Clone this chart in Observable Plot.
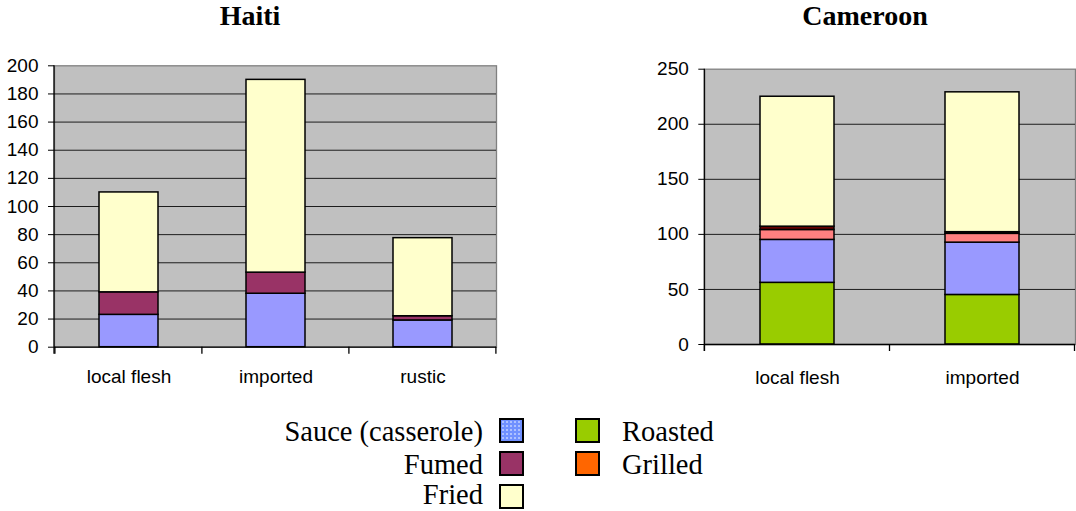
<!DOCTYPE html>
<html>
<head>
<meta charset="utf-8">
<script src="https://cdn.jsdelivr.net/npm/d3@7"></script>
<script src="https://cdn.jsdelivr.net/npm/@observablehq/plot@0.6"></script>
<style>
  html, body { margin: 0; padding: 0; background: #fff; }
  #wrap { position: relative; width: 1076px; height: 511px; overflow: hidden; }
  .title { position: absolute; top: 0; font-family: "Liberation Serif", "Times New Roman", serif; font-weight: bold; font-size: 28px; line-height: 32px; text-align: center; color: #000; }
  .chart { position: absolute; top: 40px; }
  .lg-text { position: absolute; font-family: "Liberation Serif", "Times New Roman", serif; font-size: 28.5px; line-height: 20px; color: #000; white-space: nowrap; }
  .lg-sw { position: absolute; width: 21px; height: 21px; border: 2px solid #000; }
</style>
</head>
<body>
<div id="wrap">
  <div class="title" style="left:0; width:500px;">Haiti</div>
  <div class="title" style="left:640px; width:450px;">Cameroon</div>
  <div id="haiti" class="chart" style="left:0;"></div>
  <div id="cameroon" class="chart" style="left:640px;"></div>
  <div id="legend"></div>
</div>
<script>
// ---------- data ----------
const haitiCategories = ["local flesh", "imported", "rustic"];
const haitiSauce = [23, 38, 19];
const haitiFumed = [16, 15, 3];
const haitiFried = [71, 137, 55.5];
const haitiTicks = [0, 20, 40, 60, 80, 100, 120, 140, 160, 180, 200];

const cameroonCategories = ["local flesh", "imported"];
const cameroonRoasted = [56, 45];
const cameroonSauce = [39, 47.5];
const cameroonGrilled = [9, 8];
const cameroonFumed = [3, 1.5];
const cameroonFried = [118, 127];
const cameroonTicks = [0, 50, 100, 150, 200, 250];

const legendLeft = ["Sauce (casserole)", "Fumed", "Fried"];
const legendRight = ["Roasted", "Grilled"];

// ---------- styles ----------
const haitiColors = {"Sauce (casserole)": "#9999ff", "Fumed": "#993366", "Fried": "#ffffcc"};
const cameroonColors = {"Roasted": "#99cc00", "Sauce (casserole)": "#9999ff", "Grilled": "#ff8080", "Fumed": "#660000", "Fried": "#ffffcc"};
const legendColors = {"Sauce (casserole)": "#7090ff", "Fumed": "#993366", "Fried": "#ffffcc", "Roasted": "#99cc00", "Grilled": "#ff6600"};

function longTable(cats, seriesList) {
  const rows = [];
  for (const [name, vals] of seriesList) {
    cats.forEach((c, i) => rows.push({cat: c, series: name, value: vals[i]}));
  }
  return rows;
}

function boundaryTicks(cats) {
  return (index, scales, values, dims) => {
    const x = scales.x;
    const y0 = dims.height - dims.marginBottom;
    const step = x(cats[1]) - x(cats[0]);
    const bounds = cats.map(c => x(c) - 0.3 * step);
    bounds.push(x(cats[cats.length - 1]) + 0.7 * step);
    const g = d3.create("svg:g").attr("stroke", "#000").attr("stroke-width", 1.3);
    for (const b of bounds) {
      g.append("line").attr("x1", b).attr("x2", b).attr("y1", y0).attr("y2", y0 + 7);
    }
    g.append("line").attr("x1", dims.marginLeft).attr("x2", dims.marginLeft)
      .attr("y1", dims.marginTop).attr("y2", y0 + 7);
    return g.node();
  };
}

function makeChart({cats, series, colors, ticks, width, height, margins, xPad}) {
  const rows = longTable(cats, series);
  const names = series.map(s => s[0]);
  const maxY = ticks[ticks.length - 1];
  return Plot.plot({
    width, height,
    marginLeft: margins[0], marginRight: margins[1], marginTop: margins[2], marginBottom: margins[3],
    style: {fontFamily: "'Liberation Sans', Arial, sans-serif", fontSize: "19px", color: "#000", background: "transparent", overflow: "visible"},
    x: {type: "band", domain: cats, paddingInner: 0.6, paddingOuter: 0.3, label: null},
    y: {domain: [0, maxY], label: null},
    color: {domain: names, range: names.map(n => colors[n])},
    marks: [
      Plot.frame({fill: "#c0c0c0", stroke: "#808080", strokeWidth: 1.3}),
      Plot.gridY(ticks.slice(1, -1), {stroke: "#000", strokeOpacity: 0.85, strokeWidth: 1}),
      Plot.barY(rows, Plot.stackY({x: "cat", y: "value", fill: "series", order: null, stroke: "#000", strokeWidth: 1.5})),
      Plot.ruleY([0], {stroke: "#000", strokeWidth: 1.3}),
      boundaryTicks(cats),
      Plot.axisY(ticks, {tickSize: 6, tickPadding: 10, tickFormat: d => String(d), stroke: "#000"}),
      Plot.axisX({tickSize: 0, tickPadding: xPad})
    ]
  });
}

const haiti = makeChart({
  cats: haitiCategories,
  series: [["Sauce (casserole)", haitiSauce], ["Fumed", haitiFumed], ["Fried", haitiFried]],
  colors: haitiColors,
  ticks: haitiTicks,
  width: 500, height: 360,
  margins: [54, 4, 25.3, 53.3],
  xPad: 22.5
});
document.getElementById("haiti").appendChild(haiti);

const cameroon = makeChart({
  cats: cameroonCategories,
  series: [["Roasted", cameroonRoasted], ["Sauce (casserole)", cameroonSauce], ["Grilled", cameroonGrilled], ["Fumed", cameroonFumed], ["Fried", cameroonFried]],
  colors: cameroonColors,
  ticks: cameroonTicks,
  width: 436, height: 360,
  margins: [64.3, 1, 28.7, 56],
  xPad: 25.5
});
document.getElementById("cameroon").appendChild(cameroon);

// ---------- legend ----------
const legend = document.getElementById("legend");
const rowTop = [417.5, 451, 484];
const baselines = [441.5, 474.5, 505];
legendLeft.forEach((name, i) => {
  const t = document.createElement("div");
  t.className = "lg-text";
  t.textContent = name;
  t.style.right = (1076 - 483) + "px";
  t.style.top = (baselines[i] - 19.6) + "px";
  legend.appendChild(t);
  const s = document.createElement("div");
  s.className = "lg-sw";
  s.style.left = "499px";
  s.style.top = rowTop[i] + "px";
  if (name === "Sauce (casserole)") {
    s.style.background = "radial-gradient(circle, rgba(255,255,255,0.6) 0.6px, transparent 1px) 0 0/4px 4px, " + legendColors[name];
  } else {
    s.style.background = legendColors[name];
  }
  legend.appendChild(s);
});
legendRight.forEach((name, i) => {
  const s = document.createElement("div");
  s.className = "lg-sw";
  s.style.left = "575px";
  s.style.top = rowTop[i] + "px";
  s.style.background = legendColors[name];
  legend.appendChild(s);
  const t = document.createElement("div");
  t.className = "lg-text";
  t.textContent = name;
  t.style.left = "622px";
  t.style.top = (baselines[i] - 19.6) + "px";
  legend.appendChild(t);
});
</script>
</body>
</html>
